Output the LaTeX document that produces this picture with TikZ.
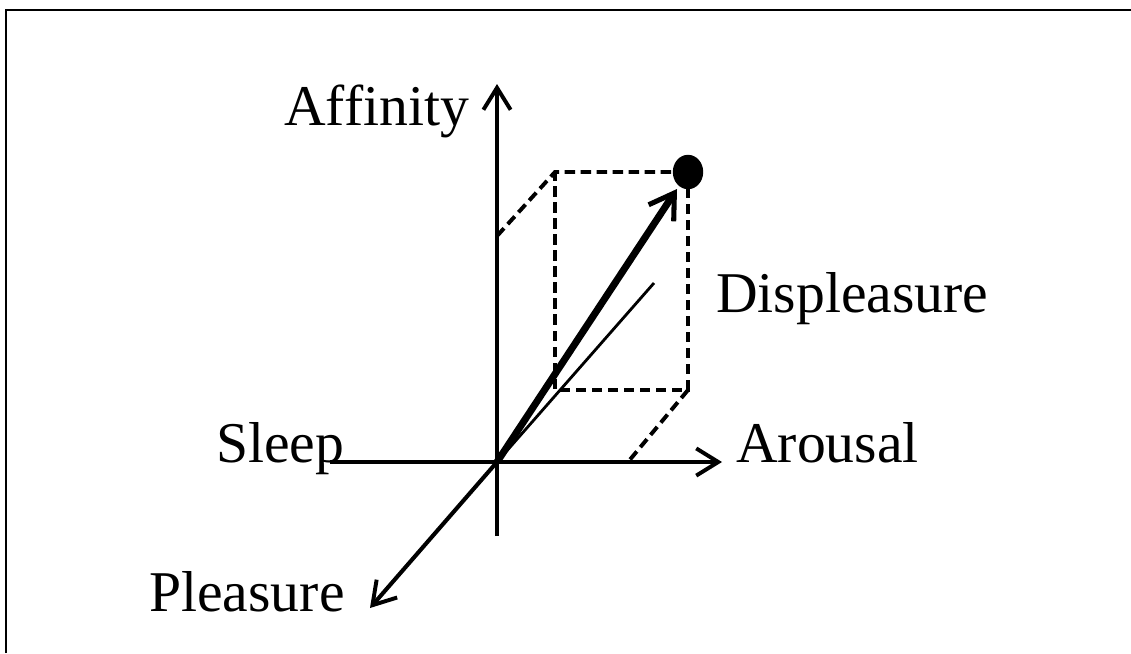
\documentclass[tikz,border=0pt]{standalone}
\usepackage{fontspec}
\setmainfont{Liberation Serif}
\usetikzlibrary{arrows.meta, shapes.geometric}
\tikzset{
  axis/.style={-{Straight Barb[length=5.5mm, width=6.8mm, line width=2.8pt]}, line width=2.9pt},
  proj/.style={line width=2.8pt, dash pattern=on 2.6mm off 1.4mm},
  thinline/.style={line width=2pt},
  vec/.style={-{Straight Barb[length=6mm, width=7.5mm, line width=3.6pt]}, line width=5pt},
  pt/.style={ellipse, fill=black, minimum width=7.6mm, minimum height=8.6mm, inner sep=0pt},
  lbl/.style={font=\fontsize{41}{47}\selectfont, inner sep=0pt, anchor=base west},
}
\begin{document}
\begin{tikzpicture}[x=0.025cm, y=-0.025cm]
  \useasboundingbox (0,0) rectangle (1131,653);
  \draw[line width=2.1pt] (6,653) -- (6,10) -- (1131,10);

  % axes
  \coordinate (O) at (497,462);
  \coordinate (ytop) at (497,84);
  \coordinate (ybot) at (497,536);
  \coordinate (xleft) at (330,462);
  \coordinate (xright) at (722,462);
  \coordinate (ztip) at (370,608);

  % projection box
  \coordinate (bA) at (555,172);
  \coordinate (bC) at (688,390);
  \coordinate (bD) at (555,390);
  \coordinate (bE) at (497,236);
  \coordinate (bF) at (628,462);
  \coordinate (shadow) at (654,283);
  \coordinate (vtip) at (677,189);

  \draw[proj] (bE) -- (bA) -- (688,172);
  \draw[proj] (688,172) -- (bC) -- (bD) -- (bA);
  \draw[proj] (bC) -- (bF);

  \draw[axis] (ybot) -- (ytop);
  \draw[axis] (xleft) -- (xright);
  \draw[axis] (O) -- (ztip);
  \draw[thinline] (O) -- (shadow);
  \draw[vec] (O) -- (vtip);
  \node[pt] (emo) at (688,172) {};

  \node[lbl] (aff) at (284,125) {Affinity};
  \node[lbl] (dis) at (716,312) {Displeasure};
  \node[lbl] (slp) at (216,462) {Sleep};
  \node[lbl] (aro) at (736,462) {Arousal};
  \node[lbl] (plz) at (149,611) {Pleasure};
\end{tikzpicture}
\end{document}
